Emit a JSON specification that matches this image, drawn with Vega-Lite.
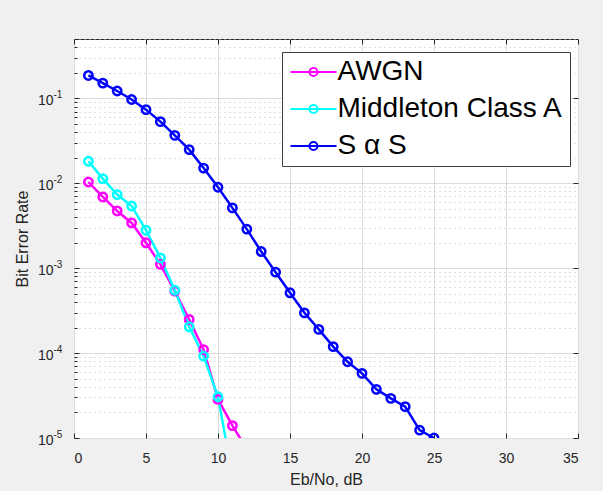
{
  "$schema": "https://vega.github.io/schema/vega-lite/v6.json",
  "autosize": "none",
  "padding": {"left": 74, "top": 39, "right": 25, "bottom": 53},
  "width": 504,
  "height": 399,
  "background": "#f0f0f0",
  "config": {
    "view": {"fill": "white", "stroke": "#262626", "strokeWidth": 1},
    "font": "Liberation Sans, DejaVu Sans",
    "axis": {"labelFont": "Liberation Sans, DejaVu Sans", "titleFont": "Liberation Sans, DejaVu Sans"}
  },
  "data": {
    "values": [
      {"x": 1, "ber": 0.01035, "series": "AWGN"},
      {"x": 2, "ber": 0.0069, "series": "AWGN"},
      {"x": 3, "ber": 0.00472, "series": "AWGN"},
      {"x": 4, "ber": 0.00341, "series": "AWGN"},
      {"x": 5, "ber": 0.00199, "series": "AWGN"},
      {"x": 6, "ber": 0.00111, "series": "AWGN"},
      {"x": 7, "ber": 0.000536, "series": "AWGN"},
      {"x": 8, "ber": 0.000249, "series": "AWGN"},
      {"x": 9, "ber": 0.00011, "series": "AWGN"},
      {"x": 10, "ber": 0.0000285, "series": "AWGN"},
      {"x": 11, "ber": 0.000014, "series": "AWGN"},
      {"x": 12, "ber": 0.0000074, "series": "AWGN"},
      {"x": 1, "ber": 0.01816, "series": "Middleton Class A"},
      {"x": 2, "ber": 0.01135, "series": "Middleton Class A"},
      {"x": 3, "ber": 0.00736, "series": "Middleton Class A"},
      {"x": 4, "ber": 0.0054, "series": "Middleton Class A"},
      {"x": 5, "ber": 0.0028, "series": "Middleton Class A"},
      {"x": 6, "ber": 0.00132, "series": "Middleton Class A"},
      {"x": 7, "ber": 0.00055, "series": "Middleton Class A"},
      {"x": 8, "ber": 0.000204, "series": "Middleton Class A"},
      {"x": 9, "ber": 0.000092, "series": "Middleton Class A"},
      {"x": 10, "ber": 0.0000306, "series": "Middleton Class A"},
      {"x": 11, "ber": 0.0000036, "series": "Middleton Class A"},
      {"x": 1, "ber": 0.186, "series": "S α S"},
      {"x": 2, "ber": 0.151, "series": "S α S"},
      {"x": 3, "ber": 0.122, "series": "S α S"},
      {"x": 4, "ber": 0.097, "series": "S α S"},
      {"x": 5, "ber": 0.0736, "series": "S α S"},
      {"x": 6, "ber": 0.0532, "series": "S α S"},
      {"x": 7, "ber": 0.0367, "series": "S α S"},
      {"x": 8, "ber": 0.0249, "series": "S α S"},
      {"x": 9, "ber": 0.0151, "series": "S α S"},
      {"x": 10, "ber": 0.00898, "series": "S α S"},
      {"x": 11, "ber": 0.00513, "series": "S α S"},
      {"x": 12, "ber": 0.00288, "series": "S α S"},
      {"x": 13, "ber": 0.00157, "series": "S α S"},
      {"x": 14, "ber": 0.000897, "series": "S α S"},
      {"x": 15, "ber": 0.000513, "series": "S α S"},
      {"x": 16, "ber": 0.000298, "series": "S α S"},
      {"x": 17, "ber": 0.00019, "series": "S α S"},
      {"x": 18, "ber": 0.000119, "series": "S α S"},
      {"x": 19, "ber": 0.000079, "series": "S α S"},
      {"x": 20, "ber": 0.0000577, "series": "S α S"},
      {"x": 21, "ber": 0.0000374, "series": "S α S"},
      {"x": 22, "ber": 0.0000293, "series": "S α S"},
      {"x": 23, "ber": 0.0000234, "series": "S α S"},
      {"x": 24, "ber": 0.0000124, "series": "S α S"},
      {"x": 25, "ber": 0.00001, "series": "S α S"}
    ]
  },
  "resolve": {"axis": {"x": "independent", "y": "independent"}},
  "layer": [
    {
      "mark": {"type": "point", "opacity": 0},
      "encoding": {
        "x": {
          "field": "x", "type": "quantitative",
          "scale": {"domain": [0, 35], "nice": false, "zero": false},
          "axis": {"orient": "top", "values": [0, 5, 10, 15, 20, 25, 30, 35], "labels": false, "grid": false, "domain": false, "ticks": true, "tickSize": -5, "tickColor": "#262626", "title": null}
        },
        "y": {
          "field": "ber", "type": "quantitative",
          "scale": {"type": "log", "domain": [0.00001, 0.5], "nice": false},
          "axis": {
            "orient": "left",
            "values": [0.00002, 0.00003, 0.00004, 0.00005, 0.00006, 0.00007, 0.00008, 0.00009, 0.0002, 0.0003, 0.0004, 0.0005, 0.0006, 0.0007, 0.0008, 0.0009, 0.002, 0.003, 0.004, 0.005, 0.006, 0.007, 0.008, 0.009, 0.02, 0.03, 0.04, 0.05, 0.06, 0.07, 0.08, 0.09, 0.2, 0.3, 0.4, 0.5],
            "labels": false, "domain": false, "ticks": true, "tickSize": -3, "tickColor": "#262626",
            "grid": true, "gridColor": "#bdbdbd", "gridDash": [1, 4], "gridWidth": 1, "title": null
          }
        }
      }
    },
    {
      "mark": {"type": "point", "opacity": 0},
      "encoding": {
        "x": {
          "field": "x", "type": "quantitative",
          "scale": {"domain": [0, 35], "nice": false, "zero": false},
          "axis": null
        },
        "y": {
          "field": "ber", "type": "quantitative",
          "scale": {"type": "log", "domain": [0.00001, 0.5], "nice": false},
          "axis": {
            "orient": "left",
            "values": [0.00001, 0.0001, 0.001, 0.01, 0.1],
            "labelExpr": "datum.value < 0.00005 ? '-5' : datum.value < 0.0005 ? '-4' : datum.value < 0.005 ? '-3' : datum.value < 0.05 ? '-2' : '-1'",
            "labelAlign": "left", "labelPadding": 21, "labelOffset": -4,
            "labelFontSize": 10, "labelColor": "#262626",
            "grid": false, "domain": false, "ticks": false, "title": null
          }
        }
      }
    },
    {
      "mark": {"type": "point", "opacity": 0},
      "encoding": {
        "x": {
          "field": "x", "type": "quantitative",
          "scale": {"domain": [0, 35], "nice": false, "zero": false},
          "axis": null
        },
        "y": {
          "field": "ber", "type": "quantitative",
          "scale": {"type": "log", "domain": [0.00001, 0.5], "nice": false},
          "axis": {
            "orient": "right",
            "values": [0.00001, 0.0001, 0.001, 0.01, 0.1],
            "labels": false, "grid": false, "domain": false, "ticks": true, "tickSize": -5, "tickColor": "#262626", "title": null
          }
        }
      }
    },
    {
      "mark": {"type": "line", "strokeWidth": 2.5, "clip": true, "point": {"filled": false, "size": 70, "strokeWidth": 2.5, "shape": "circle"}},
      "encoding": {
        "x": {
          "field": "x", "type": "quantitative",
          "scale": {"domain": [0, 35], "nice": false, "zero": false},
          "axis": {"orient": "bottom", "values": [0, 5, 10, 15, 20, 25, 30, 35], "grid": true, "gridColor": "#dcdcdc", "domain": false, "ticks": true, "tickSize": -5, "tickColor": "#262626", "labelPadding": 18, "labelFontSize": 14, "labelColor": "#262626", "title": "Eb/No, dB", "titleFontSize": 16, "titleFontWeight": "normal", "titleColor": "#262626", "titlePadding": 6}
        },
        "y": {
          "field": "ber", "type": "quantitative",
          "scale": {"type": "log", "domain": [0.00001, 0.5], "nice": false},
          "axis": {
            "orient": "left",
            "values": [0.00001, 0.0001, 0.001, 0.01, 0.1],
            "labelExpr": "'10'",
            "grid": true, "gridColor": "#dcdcdc", "domain": false, "ticks": true, "tickSize": -5, "tickColor": "#262626",
            "labelPadding": 26, "labelOffset": 2, "labelFontSize": 14, "labelColor": "#262626",
            "title": "Bit Error Rate", "titleFontSize": 16, "titleFontWeight": "normal", "titleColor": "#262626", "titlePadding": 7
          }
        },
        "color": {
          "field": "series", "type": "nominal",
          "scale": {"domain": ["AWGN", "Middleton Class A", "S α S"], "range": ["#ff00ff", "#00ffff", "#0000ff"]},
          "legend": {
            "title": null, "orient": "none", "legendX": 208, "legendY": 13,
            "symbolType": "M-2,0L2,0M-0.35,0A0.35,0.35,0,1,0,0.35,0A0.35,0.35,0,1,0,-0.35,0",
            "symbolSize": 529, "symbolStrokeWidth": 2, "symbolFillColor": "transparent", "symbolOffset": 11.5,
            "labelFontSize": 28, "labelColor": "#000000", "labelFont": "Liberation Sans, DejaVu Sans", "labelOffset": 10, "labelLimit": 0,
            "rowPadding": 9, "padding": 6,
            "strokeColor": "#404040", "fillColor": "white"
          }
        }
      }
    }
  ]
}
